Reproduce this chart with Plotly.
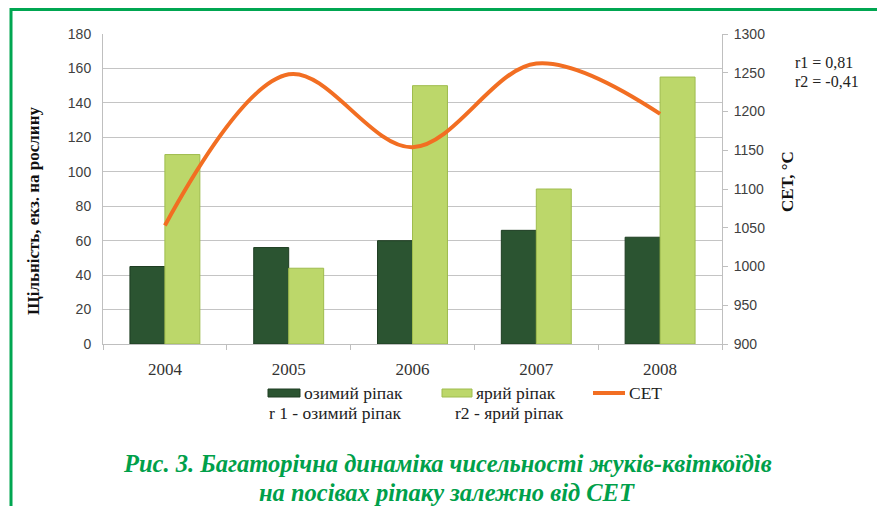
import plotly.graph_objects as go

years = ["2004", "2005", "2006", "2007", "2008"]
winter_rape = [45, 56, 60, 66, 62]
spring_rape = [110, 44, 150, 90, 155]
cet = [1053, 1248, 1154, 1262, 1197]

OFF = 8  # browser body margin
W, H = 885 - OFF, 506 - OFF
# reference-pixel plot box
L, R, T, B = 103, 722, 34, 344


def px(x):
    return (x - L) / (R - L)


def py(y):
    return (B - y) / (B - T)


fig = go.Figure()
fig.add_trace(go.Bar(x=years, y=winter_rape, name="озимий ріпак",
                     marker=dict(color="#2b5431", line=dict(color="#1e3d22", width=1))))
fig.add_trace(go.Bar(x=years, y=spring_rape, name="ярий ріпак",
                     marker=dict(color="#bcd76a", line=dict(color="#9fbc4e", width=1))))
fig.add_trace(go.Scatter(x=years, y=cet, name="СЕТ", mode="lines", yaxis="y2",
                         line=dict(color="#f26e22", width=4, shape="spline", smoothing=1.0)))

serif = "Liberation Serif, Times New Roman, serif"
sans = "Liberation Sans, Arial, sans-serif"

fig.update_layout(
    width=W, height=H,
    margin=dict(l=L - OFF, r=(885 - OFF) - (R - OFF), t=T - OFF, b=(506 - OFF) - (B - OFF)),
    paper_bgcolor="white", plot_bgcolor="white",
    showlegend=False,
    barmode="group", bargap=0.435, bargroupgap=0,
    xaxis=dict(type="category", showline=True, linecolor="#bfbfbf", linewidth=1,
               ticks="outside", tickson="boundaries", ticklen=5, tickcolor="#bfbfbf",
               ticklabelstandoff=10,
               tickfont=dict(family=serif, size=17, color="#333333"), showgrid=False),
    yaxis=dict(range=[0, 180], dtick=20, showline=True, linecolor="#bfbfbf",
               gridcolor="#c4c4c4", gridwidth=1, ticks="", zeroline=False,
               ticklabelstandoff=8,
               tickfont=dict(family=sans, size=14, color="#404040")),
    yaxis2=dict(range=[900, 1300], dtick=50, overlaying="y", side="right", showgrid=False,
                showline=True, linecolor="#bfbfbf", ticks="outside", ticklen=5,
                tickcolor="#bfbfbf", zeroline=False, ticklabelstandoff=3,
                tickfont=dict(family=sans, size=14, color="#404040")),
)


def a(x, y, text, size, xanchor="center", angle=0, color="#222222"):
    return dict(x=px(x), y=py(y), xref="paper", yref="paper", text=text, textangle=angle,
                xanchor=xanchor, yanchor="middle", showarrow=False,
                font=dict(family=serif, size=size, color=color))


ann = [
    a(33, 211, "<b>Щільність, екз. на рослину</b>", 17, angle=-90, color="#111111"),
    a(787, 182, "<b>СЕТ, °С</b>", 17, angle=-90, color="#111111"),
    a(793, 63, "r1 = 0,81", 16, xanchor="left"),
    a(793, 82, "r2 = -0,41", 16, xanchor="left"),
    a(302, 393, "озимий ріпак", 17.5, xanchor="left"),
    a(474, 393, "ярий ріпак", 17.5, xanchor="left"),
    a(627, 393, "СЕТ", 17.5, xanchor="left"),
    a(267, 413, "r 1 - озимий ріпак", 17.5, xanchor="left"),
    a(453, 413, "r2 - ярий ріпак", 17.5, xanchor="left"),
    a(447, 463, "<b><i>Рис. 3. Багаторічна динаміка чисельності жуків-квіткоїдів</i></b>", 24.5,
      color="#00a04a"),
    a(447, 492, "<b><i>на посівах ріпаку залежно від СЕТ</i></b>", 24.5, color="#00a04a"),
]
fig.update_layout(annotations=ann)

shapes = [
    dict(type="rect", xref="paper", yref="paper", x0=px(268), x1=px(300), y0=py(397), y1=py(389),
         fillcolor="#2b5431", line=dict(color="#1e3d22", width=1)),
    dict(type="rect", xref="paper", yref="paper", x0=px(442), x1=px(472), y0=py(397), y1=py(389),
         fillcolor="#bcd76a", line=dict(color="#9fbc4e", width=1)),
    dict(type="line", xref="paper", yref="paper", x0=px(593), x1=px(625), y0=py(393), y1=py(393),
         line=dict(color="#f26e22", width=4)),
    # frame
    dict(type="rect", xref="paper", yref="paper", x0=px(11), x1=px(881.5), y0=py(9.5), y1=py(530),
         line=dict(color="#00a651", width=3), fillcolor="rgba(0,0,0,0)", layer="above"),
]
fig.update_layout(shapes=shapes)

fig.write_html("out.html")
